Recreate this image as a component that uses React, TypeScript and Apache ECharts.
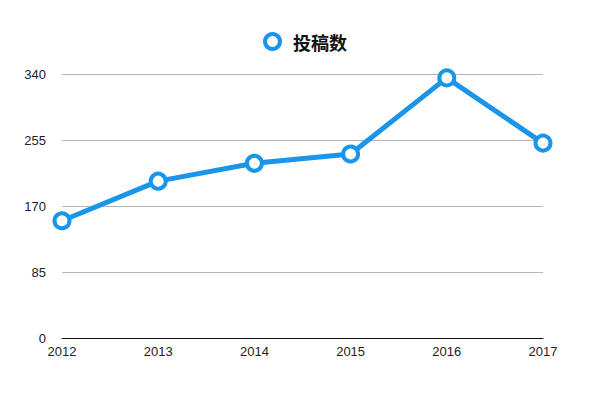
import React, { useEffect, useRef } from "react";
import * as echarts from "echarts";

const years = ["2012", "2013", "2014", "2015", "2016", "2017"];
const submissions = [151, 202, 225, 237, 335, 251];
const yTicks = [0, 85, 170, 255, 340];
const seriesName = "投稿数";

export default function App() {
  const ref = useRef<HTMLDivElement>(null);
  useEffect(() => {
    if (!ref.current) return;
    const chart = echarts.init(ref.current, undefined, { renderer: "svg" });
    const blue = "#1a95ea";
    chart.setOption({
      animation: false,
      backgroundColor: "#ffffff",
      legend: {
        top: 27,
        left: 258,
        icon: "circle",
        itemWidth: 15,
        itemHeight: 15,
        itemGap: 10,
        itemStyle: { borderWidth: 4, color: "#fff", borderColor: blue },
        textStyle: {
          fontSize: 18,
          fontWeight: "bold",
          color: "#111",
          fontFamily: "Noto Sans CJK SC",
          padding: [0, 0, 0, 8],
        },
        data: [seriesName],
      },
      grid: { left: 62, right: 48, top: 74, bottom: 56 },
      xAxis: {
        type: "category",
        data: years,
        boundaryGap: false,
        axisLine: { lineStyle: { color: "#111", width: 1.2 } },
        axisTick: { show: false },
        axisLabel: {
          color: "#222",
          fontSize: 13,
          margin: 7,
          fontFamily: "Liberation Sans",
        },
      },
      yAxis: {
        type: "value",
        min: yTicks[0],
        max: yTicks[yTicks.length - 1],
        interval: 85,
        axisLine: { show: false },
        axisTick: { show: false },
        axisLabel: {
          color: "#222",
          fontSize: 13,
          margin: 16,
          fontFamily: "Liberation Sans",
        },
        splitLine: { lineStyle: { color: "#b5b5b5", width: 1 } },
      },
      series: [
        {
          name: seriesName,
          type: "line",
          data: submissions,
          symbol: "circle",
          symbolSize: 15,
          lineStyle: { color: blue, width: 5 },
          itemStyle: { color: "#fff", borderColor: blue, borderWidth: 4 },
          z: 3,
        },
      ],
    });
    return () => chart.dispose();
  }, []);
  return <div ref={ref} style={{ width: 591, height: 394, margin: -8 }} />;
}
